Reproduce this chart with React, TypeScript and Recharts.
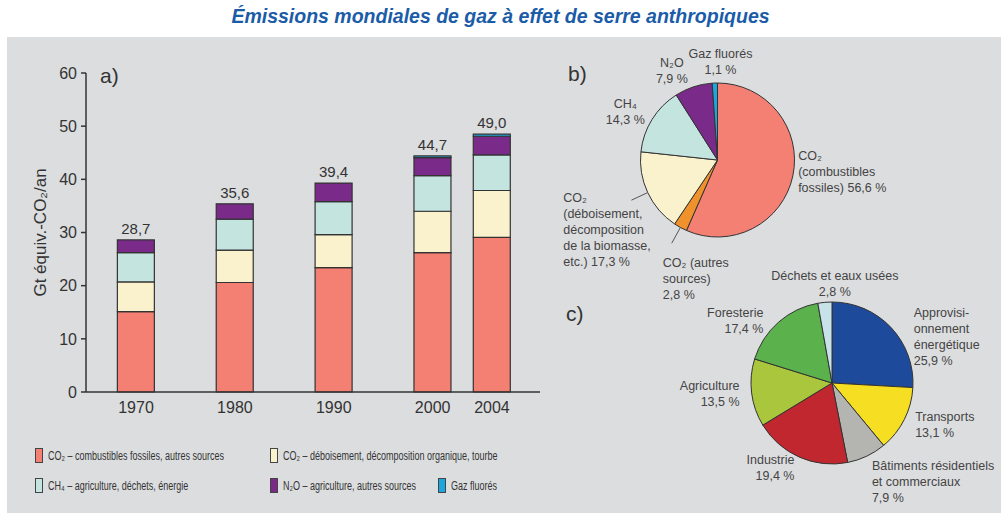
import { Bar, BarChart, Cell, LabelList, Pie, PieChart, XAxis, YAxis } from 'recharts';

// a) emissions per year, Gt CO2-eq
const years = ['1970', '1980', '1990', '2000', '2004'];
const totals = [28.7, 35.6, 39.4, 44.7, 49.0];
const co2Fossil = [15.1, 20.6, 23.4, 26.2, 29.1];
const co2Forest = [5.6, 6.1, 6.2, 7.8, 8.8];
const ch4 = [5.5, 5.8, 6.2, 6.7, 6.7];
const n2o = [2.4, 2.9, 3.5, 3.4, 3.5];
const fGases = [0, 0, 0, 0.3, 0.4];
const yTicks = [0, 10, 20, 30, 40, 50, 60];

const legendNames = [
  'CO₂ – combustibles fossiles, autres sources',
  'CO₂ – déboisement, décomposition organique, tourbe',
  'CH₄ – agriculture, déchets, énergie',
  'N₂O – agriculture, autres sources',
  'Gaz fluorés',
];

// b) share by gas, 2004 (%)
const gasNames = ['CO₂ fossiles', 'CO₂ autres', 'CO₂ déboisement', 'CH₄', 'N₂O', 'Gaz fluorés'];
const gasShares = [56.6, 2.8, 17.3, 14.3, 7.9, 1.1];
const gasLabels = [
  ['CO₂', '(combustibles', 'fossiles) {v}'],
  ['CO₂ (autres', 'sources)', '{v}'],
  ['CO₂', '(déboisement,', 'décomposition', 'de la biomasse,', 'etc.) {v}'],
  ['CH₄', '{v}'],
  ['N₂O', '{v}'],
  ['Gaz fluorés', '{v}'],
];

// c) share by sector, 2004 (%)
const sectorNames = ['Approvisionnement', 'Transports', 'Bâtiments', 'Industrie', 'Agriculture', 'Foresterie', 'Déchets'];
const sectorShares = [25.9, 13.1, 7.9, 19.4, 13.5, 17.4, 2.8];
const sectorLabels = [
  ['Approvisi-', 'onnement', 'énergétique', '{v}'],
  ['Transports', '{v}'],
  ['Bâtiments résidentiels', 'et commerciaux', '{v}'],
  ['Industrie', '{v}'],
  ['Agriculture', '{v}'],
  ['Foresterie', '{v}'],
  ['Déchets et eaux usées', '{v}'],
];

// styling / layout
const barKeys = ['co2Fossil', 'co2Forest', 'ch4', 'n2o', 'fGases'];
const barColors = ['#f47f73', '#faf2cd', '#c4e4e0', '#7a2a88', '#1ba6dd'];
const gasColors = ['#f47f73', '#f0922c', '#faf2cd', '#c4e4e0', '#7a2a88', '#1ba6dd'];
const sectorColors = ['#1e4a9c', '#f6df22', '#b4b5b1', '#c1272e', '#a9c63c', '#5bb14b', '#c8e2ea'];
// 2004 sits closer to 2000 than a decade step, as in the original drawing
const barSlots = [0, 5, 10, 15, 18];
const legendRows = [[0, 1], [2, 3, 4]];
const legendCols = [35, 270, 438];

// hand-placed pie labels in the original: small offsets from the radial position
const labelNudge: Record<string, { dx?: number; dy?: number; anchor?: string; leader?: boolean }> = {
  'CO₂ fossiles': { dx: -6, dy: -6 },
  'CO₂ autres': { dx: -12, dy: 41, anchor: 'start', leader: true },
  'CO₂ déboisement': { dx: -74, dy: 33, anchor: 'start', leader: true },
  'CH₄': { dx: -17, anchor: 'middle' },
  'N₂O': { dx: -18, dy: 3, anchor: 'middle' },
  'Gaz fluorés': { dx: 6 },
  Approvisionnement: { dx: 14, dy: 24 },
  Bâtiments: { dy: 15 },
  Foresterie: { dx: -7, dy: 12 },
  Déchets: { dx: 11, dy: 3 },
};

const barData = years.map((year, i) => ({
  year,
  slot: barSlots[i],
  co2Fossil: co2Fossil[i],
  co2Forest: co2Forest[i],
  ch4: ch4[i],
  n2o: n2o[i],
  fGases: fGases[i],
  // total sits on the highest visible segment
  totalOnN2o: fGases[i] > 0 ? null : totals[i],
  totalOnF: fGases[i] > 0 ? totals[i] : null,
}));
const gasData = gasNames.map((name, i) => ({ name, value: gasShares[i], lines: gasLabels[i] }));
const sectorData = sectorNames.map((name, i) => ({ name, value: sectorShares[i], lines: sectorLabels[i] }));

const fr = (v: number) => v.toFixed(1).replace('.', ',');
const RAD = Math.PI / 180;
const ink = '#333';
const font = "'Liberation Sans', Arial, sans-serif";

const renderPieLabel = (props: any) => {
  const { cx, cy, midAngle, outerRadius, payload, value, name } = props;
  const ux = Math.cos(-midAngle * RAD);
  const uy = Math.sin(-midAngle * RAD);
  const nudge = labelNudge[name] || {};
  const r = outerRadius * 1.15;
  const x = cx + r * ux + (nudge.dx || 0);
  const lines: string[] = (payload.lines || []).map((l: string) => l.replace('{v}', `${fr(value)} %`));
  const lineH = 16;
  const h = lines.length * lineH;
  const frac = 0.5 + 0.3 * Math.pow(Math.max(0, -uy), 3);
  const top = cy + r * uy - frac * h + (nudge.dy || 0);
  const anchor = nudge.anchor || (ux > 0.25 ? 'start' : ux < -0.25 ? 'end' : 'middle');
  return (
    <g>
      {nudge.leader && (
        <line
          x1={cx + outerRadius * ux}
          y1={cy + outerRadius * uy}
          x2={cx + (outerRadius + 18) * ux}
          y2={cy + (outerRadius + 18) * uy}
          stroke="#555"
          strokeWidth={1}
        />
      )}
      {lines.map((line, i) => (
        <text
          key={i}
          x={x}
          y={top + lineH * (i + 0.5)}
          textAnchor={anchor as any}
          dominantBaseline="central"
          fontSize={12.5}
          fill="#444"
          fontFamily={font}
        >
          {line}
        </text>
      ))}
    </g>
  );
};

const renderAxisLabel = (props: any) => {
  const { x, y, height } = props.viewBox;
  const lx = x - 6;
  const ly = y + height / 2;
  return (
    <text
      x={lx}
      y={ly}
      transform={`rotate(-90, ${lx}, ${ly})`}
      textAnchor="middle"
      dominantBaseline="central"
      fontSize={17}
      fill={ink}
      fontFamily={font}
    >
      Gt équiv.-CO₂/an
    </text>
  );
};

const panelLetter = (text: string, left: number, top: number) => (
  <div style={{ position: 'absolute', left, top, fontSize: 21, color: ink }}>{text}</div>
);

const totalLabel = (key: string) => (
  <LabelList dataKey={key} position="top" offset={6} formatter={(v: any) => fr(Number(v))} fill={ink} fontSize={15} />
);

export default function App() {
  const slotToYear = (s: number) => years[barSlots.indexOf(s)] ?? '';

  return (
    <div
      style={{
        position: 'absolute',
        left: 0,
        top: 0,
        width: 1001,
        height: 513,
        background: '#fff',
        fontFamily: font,
        overflow: 'hidden',
      }}
    >
      <div
        style={{
          position: 'absolute',
          left: 0,
          top: 5,
          width: 1001,
          textAlign: 'center',
          fontSize: 19.5,
          fontWeight: 700,
          fontStyle: 'italic',
          color: '#1b5ca8',
        }}
      >
        Émissions mondiales de gaz à effet de serre anthropiques
      </div>
      <div style={{ position: 'absolute', left: 7, top: 37, right: 0, bottom: 0, background: '#dcdddf' }} />

      <div style={{ position: 'absolute', left: 0, top: 0 }}>
        <BarChart width={560} height={430} data={barData} margin={{ top: 73, right: 20, bottom: 8, left: 46 }}>
          <XAxis
            dataKey="slot"
            type="number"
            domain={[-2.53, 20.43]}
            ticks={barSlots}
            tickFormatter={slotToYear}
            tickLine={false}
            tickMargin={4}
            height={30}
            axisLine={{ stroke: ink, strokeWidth: 1.5 }}
            tick={{ fill: ink, fontSize: 16 }}
          />
          <YAxis
            domain={[0, 60]}
            ticks={yTicks}
            width={40}
            tickSize={5}
            tickMargin={4}
            axisLine={{ stroke: ink, strokeWidth: 1.5 }}
            tickLine={{ stroke: ink, strokeWidth: 1.5 }}
            tick={{ fill: ink, fontSize: 16 }}
            label={{ content: renderAxisLabel }}
          />
          {barKeys.map((key, i) => (
            <Bar
              key={key}
              dataKey={key}
              stackId="a"
              fill={barColors[i]}
              stroke={ink}
              strokeWidth={1.2}
              barSize={37}
              isAnimationActive={false}
            >
              {key === 'n2o' && totalLabel('totalOnN2o')}
              {key === 'fGases' && totalLabel('totalOnF')}
            </Bar>
          ))}
        </BarChart>
      </div>

      <div style={{ position: 'absolute', left: 550, top: 0 }}>
        <PieChart width={451} height={513} margin={{ top: 0, right: 0, bottom: 0, left: 0 }}>
          <Pie
            data={gasData}
            dataKey="value"
            nameKey="name"
            cx={167.5}
            cy={160}
            outerRadius={77}
            startAngle={90}
            endAngle={-270}
            stroke={ink}
            strokeWidth={1}
            labelLine={false}
            label={renderPieLabel}
            isAnimationActive={false}
          >
            {gasData.map((d, i) => (
              <Cell key={d.name} fill={gasColors[i]} />
            ))}
          </Pie>
          <Pie
            data={sectorData}
            dataKey="value"
            nameKey="name"
            cx={282}
            cy={383}
            outerRadius={81}
            startAngle={90}
            endAngle={-270}
            stroke={ink}
            strokeWidth={1}
            labelLine={false}
            label={renderPieLabel}
            isAnimationActive={false}
          >
            {sectorData.map((d, i) => (
              <Cell key={d.name} fill={sectorColors[i]} />
            ))}
          </Pie>
        </PieChart>
      </div>

      {panelLetter('a)', 100, 64)}
      {panelLetter('b)', 568, 62)}
      {panelLetter('c)', 566, 302)}

      {legendRows.map((row, r) =>
        row.map((idx, c) => (
          <div
            key={idx}
            style={{ position: 'absolute', left: legendCols[c], top: 448 + r * 30, height: 15, display: 'flex', alignItems: 'center' }}
          >
            <span
              style={{
                width: 6,
                height: 13,
                background: barColors[idx],
                border: '1px solid #444',
                marginRight: 5,
                flex: 'none',
              }}
            />
            <span
              style={{
                display: 'inline-block',
                whiteSpace: 'nowrap',
                fontSize: 12.5,
                color: ink,
                transform: 'scaleX(0.72)',
                transformOrigin: 'left center',
              }}
            >
              {legendNames[idx]}
            </span>
          </div>
        )),
      )}
    </div>
  );
}
